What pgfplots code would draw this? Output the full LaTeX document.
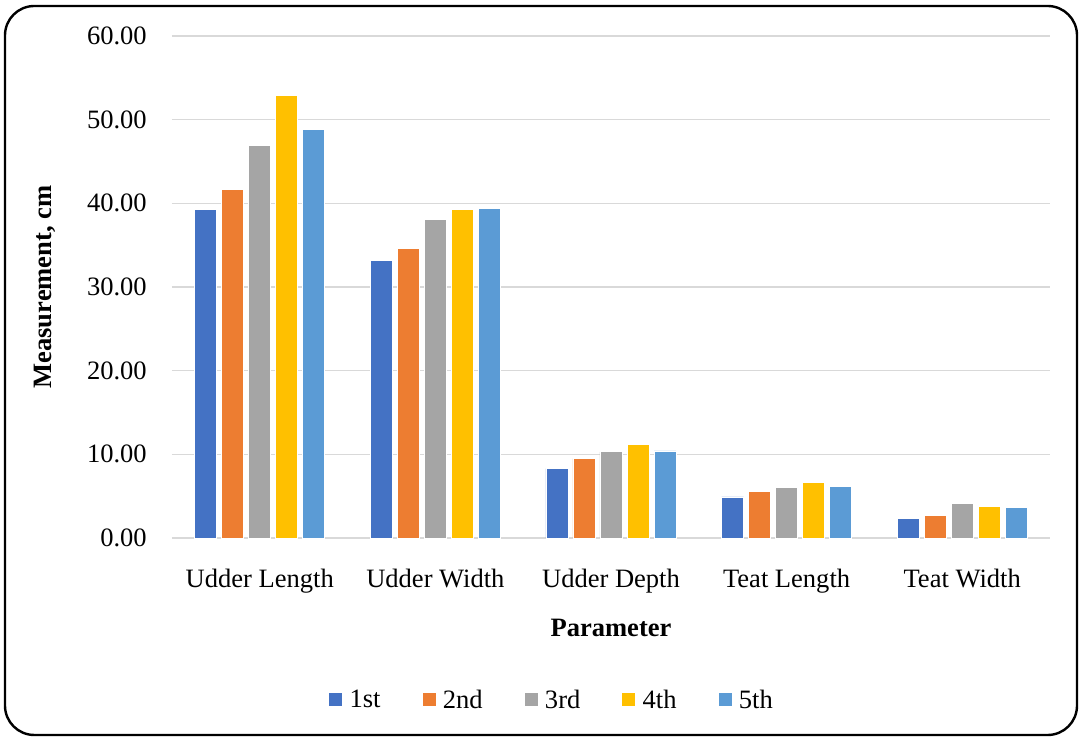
\documentclass[border=0pt]{standalone}
\usepackage{pgfplots}
\pgfplotsset{compat=1.18}
\usepackage{fontspec}
\setmainfont{Liberation Serif}
\newcommand\chartfont{\fontsize{19.9}{23.9}\selectfont}
\definecolor{c1}{HTML}{4472C4}
\definecolor{c2}{HTML}{ED7D31}
\definecolor{c3}{HTML}{A5A5A5}
\definecolor{c4}{HTML}{FFC000}
\definecolor{c5}{HTML}{5B9BD5}
\definecolor{gridc}{HTML}{D9D9D9}
\begin{document}
\begin{tikzpicture}
\begin{axis}[
  name=ax,
  scale only axis,
  width=658.5pt, height=376.5pt,
  xmin=-0.5, xmax=4.5, ymin=0, ymax=60,
  ytick={0,10,...,60},
  xtick={0,1,2,3,4},
  xticklabels={Udder Length, Udder Width, Udder Depth, Teat Length, Teat Width},
  yticklabel style={/pgf/number format/fixed, /pgf/number format/fixed zerofill, /pgf/number format/precision=2, /pgf/number format/assume math mode=true,
    anchor=east, inner sep=0pt, xshift=-18.75pt, font=\chartfont},
  xticklabel style={anchor=base, inner sep=0pt, yshift=-37.5pt, font=\chartfont},
  major tick length=0pt,
  axis line style={draw=none},
  ymajorgrids,
  grid style={gridc, line width=0.9pt},
  ylabel={Measurement, cm},
  xlabel={Parameter},
  ylabel style={at={(axis description cs:-0.1446,0.5)}, anchor=center, font=\chartfont\bfseries},
  xlabel style={at={(axis description cs:0.5,-0.18)}, anchor=center, font=\chartfont\bfseries},
  bar width=0.1253,
  legend columns=5,
  legend style={draw=none, font=\chartfont, at={(axis description cs:0.4317,-0.3227)}, anchor=center,
    nodes={inner sep=0pt},
    /tikz/every odd column/.append style={column sep=5.5pt},
    /tikz/every even column/.append style={column sep=31.5pt}},
  legend image code/.code={\fill[#1,draw=none] (0pt,-4.875pt) rectangle (9.75pt,4.875pt);},
  clip=false,
]
\addplot[ybar, bar shift=-0.3076, fill=c1, draw=white, line width=0.6pt] coordinates {(0,39.3) (1,33.2) (2,8.3) (3,4.9) (4,2.3)};
\addplot[ybar, bar shift=-0.1538, fill=c2, draw=white, line width=0.6pt] coordinates {(0,41.7) (1,34.6) (2,9.5) (3,5.6) (4,2.7)};
\addplot[ybar, bar shift=0, fill=c3, draw=white, line width=0.6pt] coordinates {(0,46.9) (1,38.1) (2,10.3) (3,6.0) (4,4.1)};
\addplot[ybar, bar shift=0.1538, fill=c4, draw=white, line width=0.6pt] coordinates {(0,52.9) (1,39.3) (2,11.2) (3,6.6) (4,3.8)};
\addplot[ybar, bar shift=0.3076, fill=c5, draw=white, line width=0.6pt] coordinates {(0,48.8) (1,39.4) (2,10.4) (3,6.2) (4,3.6)};
\legend{1st, 2nd, 3rd, 4th, 5th}
\end{axis}
\draw[line width=1.8pt, rounded corners=22pt] ([shift={(-125.25pt,-147.75pt)}]ax.south west) rectangle ([shift={(678.75pt,399pt)}]ax.south west);
\path ([shift={(-129pt,-149.25pt)}]ax.south west) rectangle ([shift={(680.25pt,403.5pt)}]ax.south west);
\end{tikzpicture}
\end{document}
